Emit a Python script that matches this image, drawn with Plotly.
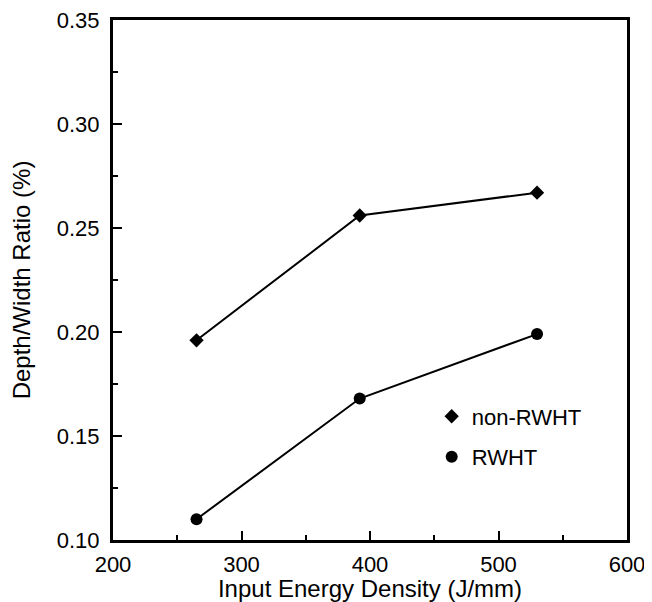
import plotly.graph_objects as go

energy = [265, 392, 530]
non_rwht = [0.196, 0.256, 0.267]
rwht = [0.110, 0.168, 0.199]
x_ticks = [200, 300, 400, 500, 600]
y_ticks = [0.10, 0.15, 0.20, 0.25, 0.30, 0.35]

FONT = "Liberation Sans, Arial, Helvetica, sans-serif"

fig = go.Figure()
fig.add_trace(go.Scatter(x=energy, y=non_rwht, mode="lines+markers",
                         line=dict(color="black", width=2),
                         marker=dict(symbol="diamond", size=11, color="black"),
                         showlegend=False))
fig.add_trace(go.Scatter(x=energy, y=rwht, mode="lines+markers",
                         line=dict(color="black", width=2),
                         marker=dict(symbol="circle", size=12, color="black"),
                         showlegend=False))
# legend entries (markers only)
fig.add_trace(go.Scatter(x=[None], y=[None], mode="markers", name="non-RWHT",
                         legendgroup="a",
                         marker=dict(symbol="diamond", size=11, color="black")))
fig.add_trace(go.Scatter(x=[None], y=[None], mode="markers", name="RWHT",
                         legendgroup="b",
                         marker=dict(symbol="circle", size=12, color="black")))

axis_common = dict(showline=True, linecolor="black", linewidth=3, mirror=True,
                   ticks="inside", ticklen=9, tickwidth=2, tickcolor="black",
                   showgrid=False, zeroline=False, ticklabeloverflow="allow",
                   tickfont=dict(family=FONT, size=22, color="black"),
                   title_font=dict(family=FONT, size=24, color="black"))

fig.update_xaxes(range=[200, 600], tickvals=x_ticks,
                 ticktext=[str(v) for v in x_ticks],
                 ticklabelstandoff=3,
                 title_text="Input Energy Density (J/mm)", title_standoff=5,
                 minor=dict(ticks="inside", ticklen=5, tickwidth=2,
                            tickcolor="black", dtick=50, showgrid=False),
                 **axis_common)
fig.update_yaxes(range=[0.10, 0.35], tickvals=y_ticks,
                 ticktext=[f"{v:.2f}" for v in y_ticks],
                 ticklabelstandoff=6,
                 title_text="Depth/Width Ratio (%)", title_standoff=22,
                 minor=dict(ticks="inside", ticklen=5, tickwidth=2,
                            tickcolor="black", dtick=0.025, showgrid=False),
                 **axis_common)

fig.update_layout(
    width=644, height=594,
    margin=dict(l=105, r=25, t=12, b=62, autoexpand=False),
    paper_bgcolor="white", plot_bgcolor="white",
    font=dict(family=FONT, color="black"),
    legend=dict(x=0.62, y=0.278, xanchor="left", yanchor="top",
                bgcolor="rgba(0,0,0,0)", tracegroupgap=9,
                font=dict(family=FONT, size=22, color="black"),
                itemwidth=30),
)

fig.write_html("out.html")
